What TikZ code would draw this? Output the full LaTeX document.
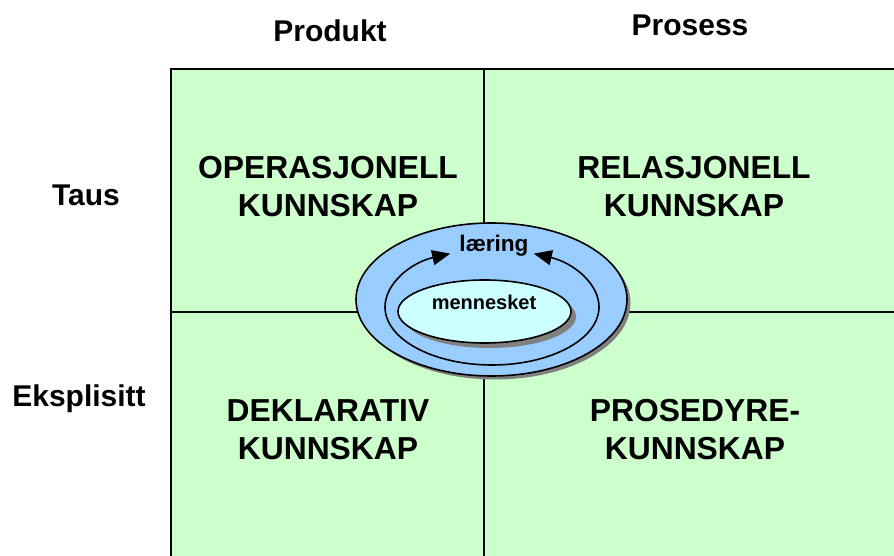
\documentclass[tikz,border=0pt]{standalone}
\usepackage{fontspec}
\setmainfont{Liberation Sans}
\usetikzlibrary{arrows.meta}
\definecolor{cellgreen}{HTML}{CCFFCC}
\definecolor{ringblue}{HTML}{99CCFF}
\definecolor{corecyan}{HTML}{CCFFFF}
\definecolor{shadowgrey}{HTML}{808080}
\tikzset{
  head/.style={font=\fontsize{30}{36}\selectfont\bfseries, inner sep=0pt},
  cell/.style={font=\fontsize{31.8}{38}\selectfont\bfseries, align=center, inner sep=0pt},
  gridline/.style={line width=2pt, draw=black},
  ring/.style={line width=1.6pt, draw=black},
  cyc/.style={line width=1.6pt, -{Triangle[length=18pt,width=15pt]}},
}
\begin{document}
\begin{tikzpicture}[x=1pt,y=1pt]
\useasboundingbox (0,0) rectangle (894,556);
\clip (0,0) rectangle (894,556);
% matrix
\fill[cellgreen] (171,487) rectangle (900,-5);
\draw[gridline] (171,-5) -- (171,487) -- (900,487);
\draw[gridline] (484,487) -- (484,-5);
\draw[gridline] (171,244) -- (900,244);
% headings
\node[head] (produkt) at (330,525) {Produkt};
\node[head] (prosess) at (690,531) {Prosess};
\node[head] (taus) at (86,361) {Taus};
\node[head] (eksplisitt) at (79,157) {Eksplisitt};
% cells
\node[cell] (opr) at (328,369) {OPERASJONELL\\KUNNSKAP};
\node[cell] (rel) at (694,369) {RELASJONELL\\KUNNSKAP};
\node[cell] (dek) at (328,126) {DEKLARATIV\\KUNNSKAP};
\node[cell] (pro) at (695,126) {PROSEDYRE-\\KUNNSKAP};
% outer ring
\fill[shadowgrey] (495,253) ellipse [x radius=135.5, y radius=76.5];
\filldraw[ring, fill=ringblue] (491.5,256.5) ellipse [x radius=135.5, y radius=76.5];
% cycle arcs
\coordinate (cycbottom) at (492,191);
\draw[cyc] (cycbottom) arc[start angle=270, end angle=113, x radius=107, y radius=58];
\draw[cyc] (cycbottom) arc[start angle=-90, end angle=67, x radius=107, y radius=58];
% inner core
\fill[shadowgrey] (489.5,239.5) ellipse [x radius=86.5, y radius=31.5];
\filldraw[ring, fill=corecyan] (484.5,244.5) ellipse [x radius=86.5, y radius=31.5];
\node[font=\fontsize{22.6}{26}\selectfont\bfseries, inner sep=0pt] (laering) at (494,310) {læring};
\node[font=\fontsize{20}{24}\selectfont\bfseries, inner sep=0pt] (mennesket) at (484,254) {mennesket};
\end{tikzpicture}
\end{document}
